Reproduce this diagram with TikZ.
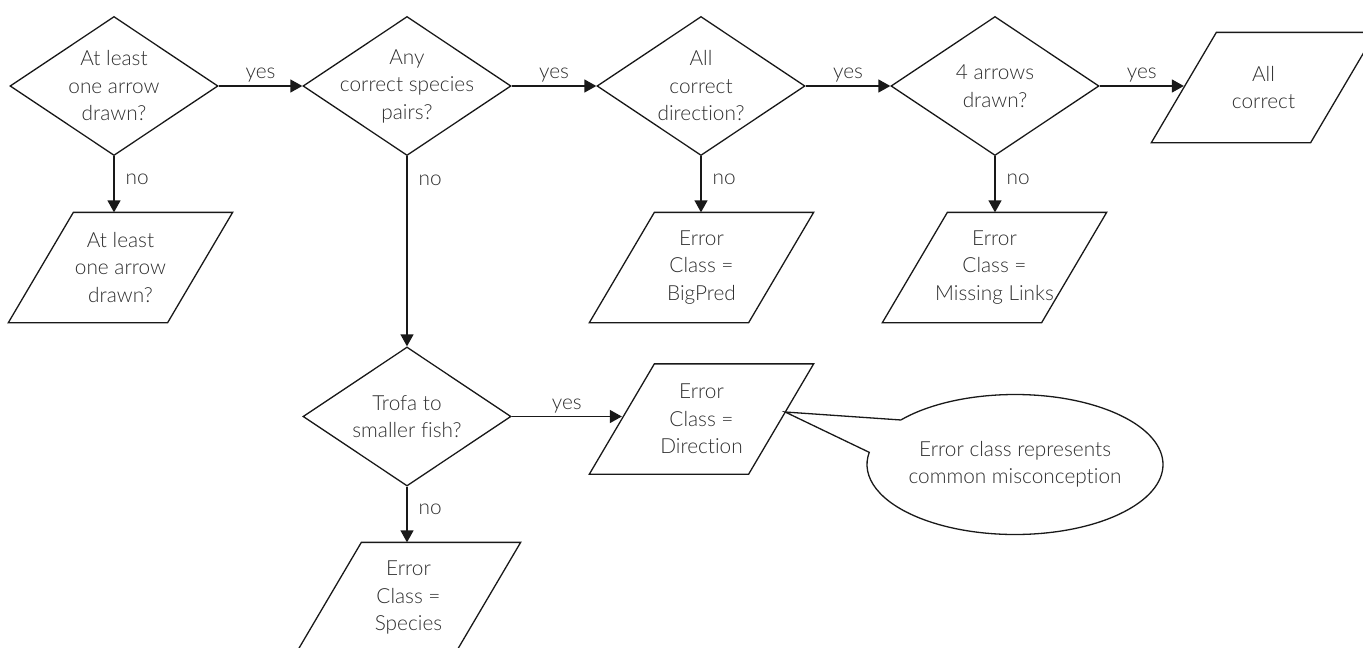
\documentclass[tikz,border=0pt]{standalone}
\usepackage{fontspec}
\setmainfont{Lato}[UprightFont=* Light, Ligatures=NoCommon]
\usetikzlibrary{shapes.geometric,arrows.meta,calc}

\begin{document}
\begin{tikzpicture}[x=1pt,y=-1pt,
  line width=1.3pt, draw=black!90,
  txt/.style={font=\fontsize{20.8}{27.5}\selectfont, text=black!82, align=center},
  decision/.style={diamond, draw, minimum width=208pt, minimum height=139pt, inner sep=0pt},
  para/.style={rectangle, minimum width=158pt, minimum height=109pt, inner sep=0pt, txt},
  flow/.style={-{Triangle[length=12pt,width=13pt]}},
  lab/.style={txt, inner sep=3pt}]

\useasboundingbox (0,0) rectangle (1363,648);

% decisions
\node[decision, label={[txt]center:{At least\\one arrow\\drawn?}}] (d1) at (114,86) {};
\node[decision, label={[txt]center:{Any\\correct species\\pairs?}}] (d2) at (407,86) {};
\node[decision, label={[txt]center:{All\\correct\\direction?}}] (d3) at (701,86) {};
\node[decision, label={[txt]center:{4 arrows\\drawn?}}] (d4) at (995,86) {};
\node[decision, label={[txt]center:{Trofa to\\smaller fish?}}] (d5) at (407,416.5) {};

% outcomes
\node[para] (p1) at (120.5,267.5) {At least\\one arrow\\drawn?};
\node[para] (bp) at (701.5,267.5) {Error\\Class =\\BigPred};
\node[para] (ml) at (994.5,267.5) {Error\\Class =\\Missing Links};
\node[para] (ac) at (1263.5,87.5) {All\\correct};
\node[para] (dir) at (701.5,419) {Error\\Class =\\Direction};
\node[para] (sp) at (408.5,597.5) {Error\\Class =\\Species};

\foreach \n in {p1,bp,ml,ac,dir,sp}
  \draw ([xshift=32.5pt]\n.north west) -- ([xshift=32.5pt]\n.north east)
     -- ([xshift=-32.5pt]\n.south east) -- ([xshift=-32.5pt]\n.south west) -- cycle;

% note
\node[txt] (note) at (1015,464.5) {Error class represents\\common misconception};
\draw ($(dir.east)+(4,-7)$) -- ($(note.center)+(140.5:148pt and 70pt)$)
  arc[start angle=140.5, end angle=-190, x radius=148pt, y radius=70pt] -- cycle;

% connectors
\draw[flow] (d1.east) -- node[lab, above]{yes} (d2.west);
\draw[flow] (d2.east) -- node[lab, above]{yes} (d3.west);
\draw[flow] (d3.east) -- node[lab, above]{yes} (d4.west);
\draw[flow] (d4.east) -- node[lab, above]{yes} (d4.east -| ac.west);
\draw[flow] (d5.east) -- node[lab, above]{yes} (d5.east -| dir.west);

\draw[flow] (d1.south) -- node[lab, right, pos=0.41, xshift=8pt]{no} (d1.south |- p1.north);
\draw[flow] (d3.south) -- node[lab, right, pos=0.41, xshift=8pt]{no} (d3.south |- bp.north);
\draw[flow] (d4.south) -- node[lab, right, pos=0.41, xshift=8pt]{no} (d4.south |- ml.north);
\draw[flow] (d2.south) -- node[lab, right, pos=0.125, xshift=8pt]{no} (d5.north);
\draw[flow] (d5.south) -- node[lab, right, pos=0.41, xshift=8pt]{no} (d5.south |- sp.north);
\end{tikzpicture}
\end{document}
